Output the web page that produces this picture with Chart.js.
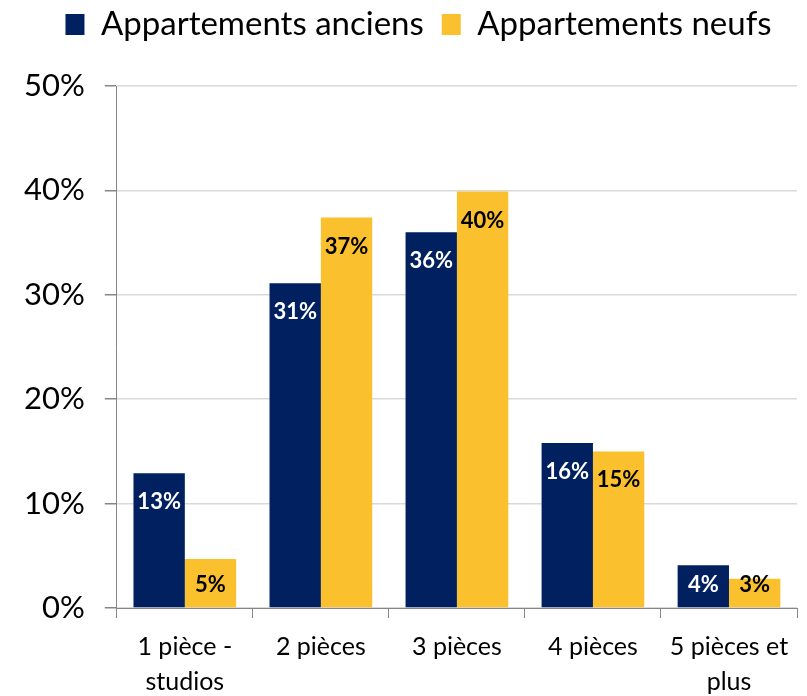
<!DOCTYPE html>
<html>
<head>
<meta charset="utf-8">
<script src="https://cdn.jsdelivr.net/npm/chart.js@4"></script>
<style>
  html, body { margin: 0; padding: 0; background: #fff; }
  #wrap { width: 807px; height: 696px; position: relative; }
</style>
</head>
<body>
<div id="wrap"><canvas id="myChart"></canvas></div>
<script>
'use strict'
// data
var categories = [['1 pièce -', 'studios'], '2 pièces', '3 pièces', '4 pièces', ['5 pièces et', 'plus']];
var anciens = [12.9, 31.1, 36.0, 15.8, 4.1];
var neufs = [4.7, 37.4, 39.9, 15.0, 2.8];
var yTicks = [0, 10, 20, 30, 40, 50];

var fontName = "Lato, 'DejaVu Sans', sans-serif";

// draws the value labels inside the top of each bar
var barLabels = {
    id: 'barLabels',
    afterDatasetsDraw: function (chart) {
        var ctx = chart.ctx;
        ctx.save();
        ctx.font = 'bold 22px ' + fontName;
        ctx.textAlign = 'center';
        ctx.textBaseline = 'middle';
        chart.data.datasets.forEach(function (ds, i) {
            var meta = chart.getDatasetMeta(i);
            ctx.fillStyle = i === 0 ? '#ffffff' : '#000000';
            meta.data.forEach(function (bar, j) {
                // short bars: keep the label clear of the axis
                var y = Math.min(bar.y + 29, bar.base - 22);
                ctx.fillText(Math.round(ds.data[j]) + '%', bar.x, y);
            });
        });
        ctx.restore();
    }
};

// fixed legend height so the plot starts lower, legend nudged right
var legendHeight = {
    id: 'legendHeight',
    beforeInit: function (chart) {
        var legend = chart.legend;
        var fit = legend.fit;
        var draw = legend.draw;
        legend.fit = function () {
            fit.bind(legend)();
            this.height = 96;
        };
        legend.draw = function () {
            this.ctx.save();
            this.ctx.translate(18, 0);
            draw.bind(legend)();
            this.ctx.restore();
        };
    }
};

var ctx = document.getElementById('myChart').getContext('2d');
var chart = new Chart(ctx, {
    type: 'bar',
    data: {
        labels: categories,
        datasets: [{
            label: 'Appartements anciens',
            backgroundColor: '#002060',
            data: anciens
        }, {
            label: 'Appartements neufs',
            backgroundColor: '#FBC02D',
            data: neufs
        }]
    },
    plugins: [barLabels, legendHeight],
    options: {
        responsive: true,
        maintainAspectRatio: false,
        animation: false,
        layout: { padding: { top: -10, right: 10, bottom: -15, left: 4 } },
        datasets: {
            bar: { barPercentage: 1, categoryPercentage: 0.755 }
        },
        plugins: {
            tooltip: { enabled: false },
            legend: {
                position: 'top',
                labels: {
                    boxWidth: 19,
                    boxHeight: 21,
                    padding: 18,
                    color: '#000',
                    font: { family: fontName, size: 33 }
                }
            }
        },
        scales: {
            x: {
                grid: {
                    offset: true,
                    drawOnChartArea: false,
                    drawTicks: true,
                    tickLength: 10,
                    color: '#868686'
                },
                border: { color: '#868686' },
                ticks: {
                    color: '#000',
                    font: { family: fontName, size: 25, lineHeight: 1.38 },
                    maxRotation: 0,
                    padding: 12
                }
            },
            y: {
                min: 0,
                max: 50,
                afterBuildTicks: function (axis) {
                    axis.ticks = yTicks.map(function (v) { return { value: v }; });
                },
                grid: {
                    color: '#d9d9d9',
                    lineWidth: 1.5,
                    drawTicks: true,
                    tickLength: 12,
                    tickColor: '#868686'
                },
                border: { color: '#868686' },
                ticks: {
                    color: '#000',
                    font: { family: fontName, size: 31 },
                    padding: 20,
                    callback: function (v) { return v + '%'; }
                }
            }
        }
    }
});
</script>
</body>
</html>
